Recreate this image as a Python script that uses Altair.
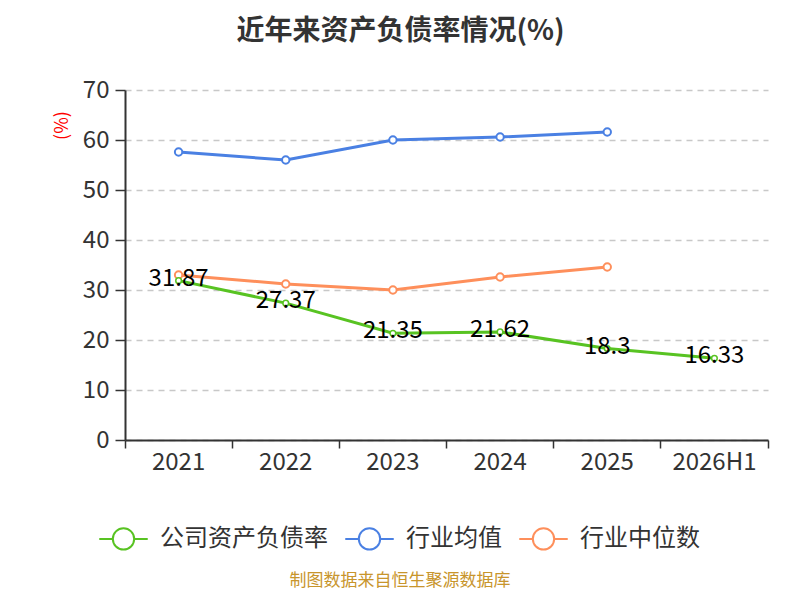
import altair as alt
import pandas as pd

years = ["2021", "2022", "2023", "2024", "2025", "2026H1"]
company = [31.87, 27.37, 21.35, 21.62, 18.3, 16.33]
industry_avg = [57.6, 56.0, 60.0, 60.6, 61.6]
industry_median = [33.0, 31.2, 30.0, 32.6, 34.6]

series_names = ["公司资产负债率", "行业均值", "行业中位数"]
series_colors = ["#58c322", "#4a80e3", "#fe8f5b"]

rows = []
for name, vals in zip(series_names, [company, industry_avg, industry_median]):
    for y, v in zip(years, vals):
        rows.append({"year": y, "value": v, "series": name})
df = pd.DataFrame(rows)
df_company = df[df.series == series_names[0]]

FONT = "Noto Sans CJK SC"

legend_symbol = ("M -1 0 L -0.44 0 M 0.44 0 A 0.44 0.44 0 1 1 -0.44 0 "
                 "A 0.44 0.44 0 1 1 0.44 0 M 0.44 0 L 1 0")

x_main = alt.X("year:N", sort=years,
               scale=alt.Scale(type="band", domain=years, paddingInner=0, paddingOuter=0),
               bandPosition=0.5,
               axis=alt.Axis(title=None, orient="bottom", labelFontSize=24,
                             labelColor="#333333", labelFont=FONT, labelAngle=0,
                             ticks=False, labelPadding=10, domain=False, grid=False))
x_plain = alt.X("year:N", sort=years, bandPosition=0.5, axis=None)

y_main = alt.Y("value:Q", scale=alt.Scale(domain=[0, 70], nice=False),
               axis=alt.Axis(title="(%)", titleColor="#ff0000", titleFontSize=18,
                             titleFont=FONT, titleFontWeight="normal",
                             titleX=-63, titleY=35, titleAngle=270,
                             titleAlign="center", titleBaseline="middle",
                             values=list(range(0, 71, 10)), labelFontSize=24,
                             labelColor="#333333", labelFont=FONT, labelPadding=6,
                             tickSize=10, tickColor="#333333", tickWidth=1.5,
                             domainColor="#333333", domainWidth=2,
                             grid=True, gridDash=[6, 5], gridColor="#c8c8c8",
                             gridWidth=1.5))

color_enc = alt.Color("series:N", sort=series_names,
                      scale=alt.Scale(domain=series_names, range=series_colors),
                      legend=alt.Legend(title=None, orient="none", direction="horizontal",
                                        legendX=-27, legendY=423,
                                        symbolType=legend_symbol, symbolSize=2350,
                                        symbolStrokeWidth=2, symbolFillColor="white",
                                        labelFontSize=24, labelFont=FONT,
                                        labelColor="#333333", labelOffset=11,
                                        columnPadding=13, labelLimit=300))

stroke_enc = alt.Stroke("series:N", scale=alt.Scale(domain=series_names, range=series_colors),
                        legend=None)

lines = alt.Chart(df).mark_line(strokeWidth=3).encode(
    x=x_main, y=y_main, color=color_enc)

points_big = alt.Chart(df[df.series != series_names[0]]).mark_point(
    filled=True, fill="white", size=55, strokeWidth=2, opacity=1).encode(
    x=x_plain, y="value:Q", stroke=stroke_enc)

points_small = alt.Chart(df_company).mark_point(
    filled=True, fill="white", size=32, strokeWidth=1.5, opacity=1).encode(
    x=x_plain, y="value:Q", stroke=stroke_enc)

labels = alt.Chart(df_company).mark_text(
    fontSize=24, font=FONT, color="#000000", baseline="middle", dy=-2).encode(
    x=x_plain, y="value:Q", text=alt.Text("value:Q"))

tick_axis = alt.Chart(df_company).mark_point(opacity=0).encode(
    x=alt.X("year:N", sort=years,
            axis=alt.Axis(title=None, orient="bottom", labels=False, ticks=True,
                          tickSize=8, tickColor="#333333", tickWidth=1.5,
                          bandPosition=1, tickExtra=True, domain=True,
                          domainColor="#333333", domainWidth=2, grid=False)),
    y="value:Q")

source = alt.Chart(pd.DataFrame({"t": ["制图数据来自恒生聚源数据库"]})).mark_text(
    fontSize=17, font=FONT, color="#c8952c", align="center", baseline="alphabetic").encode(
    text="t:N", x=alt.value(275), y=alt.value(496))

chart = alt.layer(lines, points_big, points_small, labels, tick_axis, source).resolve_axis(
    x="independent").properties(
    width=643, height=350,
    autosize=alt.AutoSizeParams(type="none"),
    padding={"left": 117, "top": 82, "right": 24, "bottom": 151},
    title=alt.TitleParams("近年来资产负债率情况(%)", fontSize=28, font=FONT,
                          fontWeight="bold", color="#333333", anchor="middle",
                          dx=-46, offset=32),
).configure_view(stroke=None)

chart.save("out.html", embed_options={"renderer": "svg", "actions": False})
